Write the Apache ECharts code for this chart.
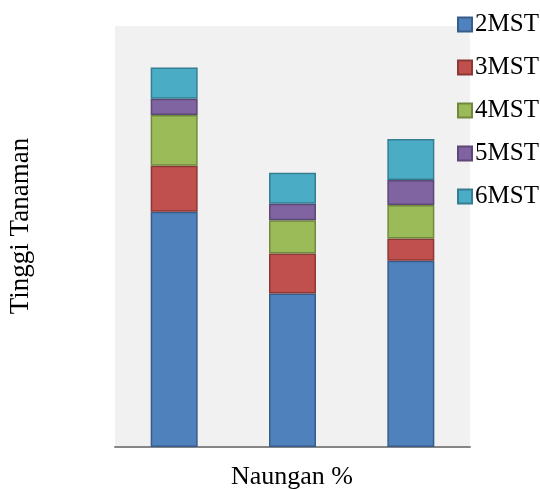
<!DOCTYPE html>
<html>
<head>
<meta charset="utf-8">
<script src="https://cdn.jsdelivr.net/npm/echarts@6/dist/echarts.min.js"></script>
<style>html,body{margin:0;padding:0;background:#fff;}#c{width:540px;height:489px;}</style>
</head>
<body>
<div id="c"></div>
<script>
const categories = ['A', 'B', 'C'];
const seriesNames = ['2MST', '3MST', '4MST', '5MST', '6MST'];
const s2MST = [23.46, 15.32, 18.57];
const s3MST = [4.59, 3.99, 2.23];
const s4MST = [5.08, 3.32, 3.35];
const s5MST = [1.60, 1.63, 2.49];
const s6MST = [3.13, 3.09, 4.09];
const yMax = 42;

const values = [s2MST, s3MST, s4MST, s5MST, s6MST];
const fills = ['#4F81BD', '#C0504D', '#9BBB59', '#8064A2', '#4BACC6'];
const borders = ['#385D8A', '#8C3836', '#71893F', '#5C4776', '#357D91'];
const font = '"Liberation Serif", "Times New Roman", serif';

const chart = echarts.init(document.getElementById('c'), null, {renderer: 'canvas'});
chart.setOption({
  animation: false,
  backgroundColor: '#ffffff',
  grid: {left: 115, top: 26, right: 70, bottom: 42, show: true, backgroundColor: '#f1f1f1', borderWidth: 0},
  legend: {
    orient: 'vertical', left: 452, top: 7, itemWidth: 14, itemHeight: 14, itemGap: 18,
    icon: 'rect',
    textStyle: {fontFamily: font, fontSize: 25, color: '#000', padding: [0, 0, 0, -2]},
    data: seriesNames
  },
  xAxis: {
    type: 'category', data: categories,
    axisLine: {lineStyle: {color: '#868686', width: 2}},
    axisTick: {show: false}, axisLabel: {show: false}
  },
  yAxis: {
    type: 'value', min: 0, max: yMax,
    axisLine: {show: false}, axisTick: {show: false}, axisLabel: {show: false}, splitLine: {show: false}
  },
  graphic: [
    {type: 'text', x: 292, y: 477, style: {text: 'Naungan %', font: '26px ' + font, fill: '#000', align: 'center', verticalAlign: 'middle'}},
    {type: 'text', x: 21, y: 226, rotation: Math.PI / 2, style: {text: 'Tinggi Tanaman', font: '27px ' + font, fill: '#000', align: 'center', verticalAlign: 'middle'}}
  ],
  series: seriesNames.map((n, i) => ({
    name: n, type: 'bar', stack: 'total', barWidth: 47,
    data: values[i],
    itemStyle: {color: fills[i], borderColor: borders[i], borderWidth: 1.5}
  }))
});
</script>
</body>
</html>
